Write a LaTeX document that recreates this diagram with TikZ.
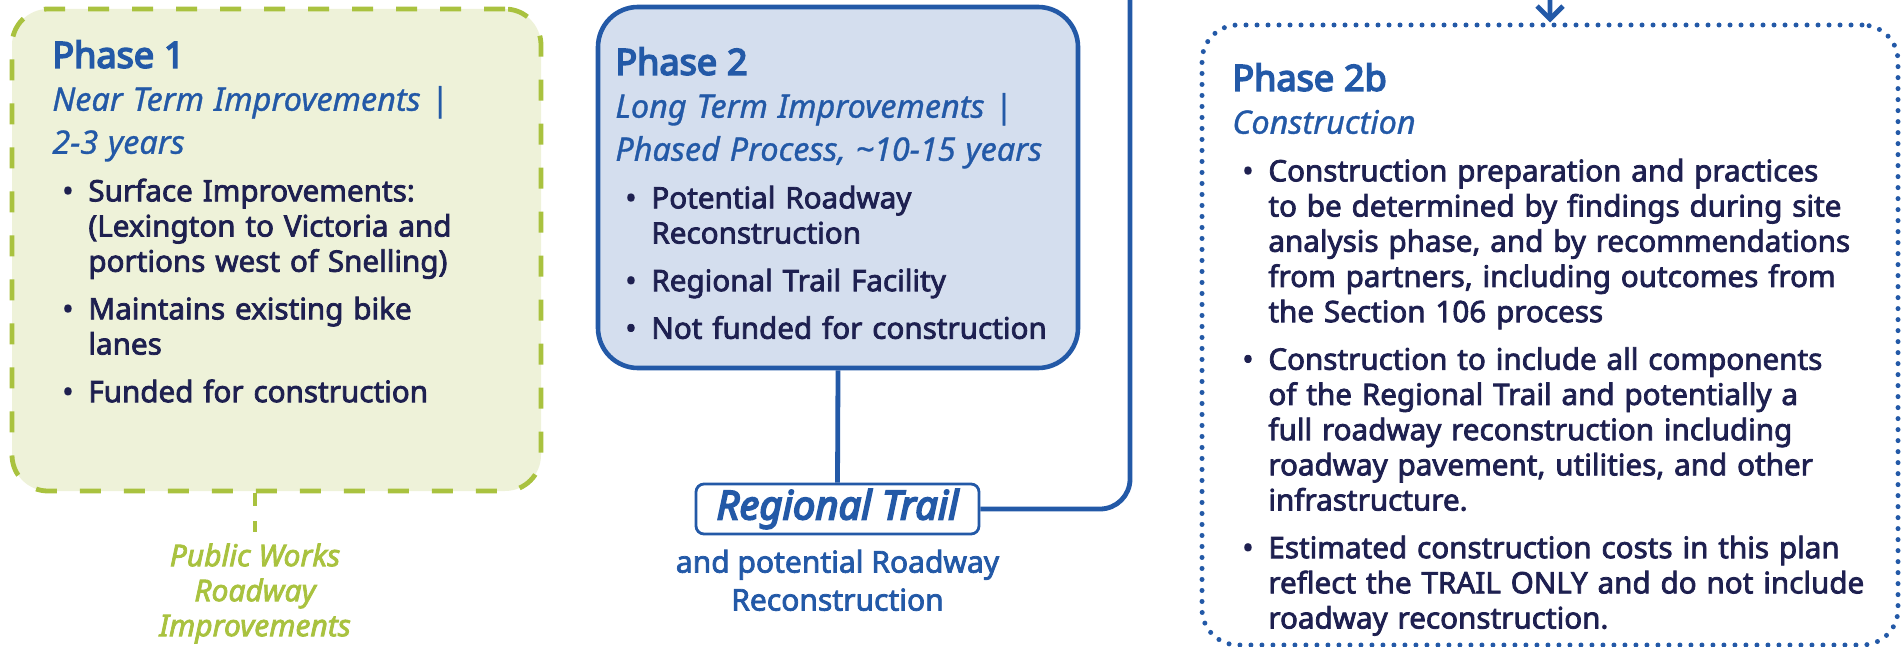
\documentclass[tikz,border=0pt]{standalone}
\usepackage{fontspec}
\setmainfont{Noto Sans}
\newfontfamily\hdfamily{Noto Sans}[FakeBold=4.5]
\newfontfamily\sbfamily{Noto Sans}[FakeBold=2.6]
\newfontfamily\mdfamily{Noto Sans}[FakeBold=1]
\usetikzlibrary{arrows.meta,positioning}
\definecolor{PhBlue}{HTML}{2359A7}
\definecolor{PhNavy}{HTML}{1E2050}
\definecolor{PhGreen}{HTML}{A9C23F}
\definecolor{PhGreenSoft}{HTML}{EEF2D9}
\definecolor{PhBlueSoft}{HTML}{D4DEEE}
\setlength{\parindent}{0pt}
\newcommand{\phhead}[1]{{\fontsize{18}{22}\selectfont\hdfamily\color{PhBlue}#1\par}}
\newcommand{\phsub}[1]{{\fontsize{16.2}{21.5}\selectfont\mdfamily\itshape\color{PhBlue}#1\par}}
\newcommand{\phitem}[1]{{\fontsize{14.8}{17.6}\selectfont\sbfamily\color{PhNavy}\vspace{6.2pt}\hangindent=18pt\hangafter=1\noindent\makebox[18pt][l]{\hspace{5pt}\textbullet}#1\par}}

\begin{document}
\begin{tikzpicture}[x=0.5pt, y=-0.5pt, font=\fontsize{14.8}{17.5}\selectfont,
  nearbox/.style={draw=PhGreen, fill=PhGreenSoft, line width=2.4pt, dash pattern=on 10.5pt off 11.5pt, rounded corners=18pt, inner sep=0pt},
  longbox/.style={draw=PhBlue, fill=PhBlueSoft, line width=2.3pt, rounded corners=20pt, inner sep=0pt},
  buildbox/.style={draw=PhBlue, line width=2.5pt, line cap=round, dash pattern=on 0pt off 5.5pt, rounded corners=18pt, inner sep=0pt},
  trailbox/.style={draw=PhBlue, fill=white, line width=1.4pt, rounded corners=4pt, minimum width=141.5pt, minimum height=25pt, inner sep=0pt, text=PhBlue, font=\fontsize{20}{22}\selectfont\hdfamily\itshape},
  body/.style={anchor=north west, inner sep=0pt, align=left},
  note/.style={inner sep=0pt, align=center, font=\fontsize{15}{17.5}\selectfont\sbfamily},
  link/.style={draw=PhBlue, line width=2.4pt},
  stub/.style={draw=PhGreen, line width=2.4pt, dash pattern=on 6.5pt off 7.5pt}]
\useasboundingbox (0,0) rectangle (1904,647);
\clip (0,0) rectangle (1904,647);
\node[nearbox, minimum width=264.5pt, minimum height=241pt] (p1) at (276.5,250) {};
\node[longbox, minimum width=240pt, minimum height=180.5pt] (p2) at (838,187.5) {};
\node[buildbox, minimum width=348pt, minimum height=310pt] (p2b) at (1550,335) {};
\node[body, text width=255pt] (p1txt) at (52,40) {\phhead{Phase 1}
  \phsub{Near Term Improvements |\newline 2-3 years}
  \phitem{Surface Improvements:\newline (Lexington to Victoria and\newline portions west of Snelling)}
  \phitem{Maintains existing bike\newline lanes}
  \phitem{Funded for construction}};
\node[body, text width=250pt] (p2txt) at (615,47) {\phhead{Phase 2}
  \phsub{Long Term Improvements |\newline Phased Process, \textasciitilde10-15 years}
  \phitem{Potential Roadway\newline Reconstruction}
  \phitem{Regional Trail Facility}
  \phitem{Not funded for construction}};
\node[body, text width=345pt] (p2btxt) at (1232,63) {\phhead{Phase 2b}
  \phsub{Construction}
  \phitem{Construction preparation and practices\newline to be determined by findings during site\newline analysis phase, and by recommendations\newline from partners, including outcomes from\newline the Section 106 process}
  \phitem{Construction to include all components\newline of the Regional Trail and potentially a\newline full roadway reconstruction including\newline roadway pavement, utilities, and other\newline infrastructure.}
  \phitem{Estimated construction costs in this plan\newline reflect the TRAIL ONLY and do not include\newline roadway reconstruction.}};
\node[trailbox] (rt) at (837.5,509) {Regional Trail};
\node[note, text=PhBlue, below=7pt of rt, font=\fontsize{15}{19}\selectfont\sbfamily] (rtsub) {and potential Roadway\\Reconstruction};
\node[note, text=PhGreen, anchor=north, inner ysep=5.5pt, font=\fontsize{15}{17.5}\selectfont\sbfamily\itshape] (pw) at (255,532) {Public Works\\Roadway\\Improvements};
\coordinate (hub) at (1130,-40);
\draw[stub] (p1.south -| pw.north) -- (pw.north);
\draw[link] (p2.south) -- (rt.north);
\draw[link, rounded corners=15pt, -{Straight Barb[length=6.5pt, width=13pt]}] (rt.east) -| (hub) -| (p2b.north);
\end{tikzpicture}
\end{document}
